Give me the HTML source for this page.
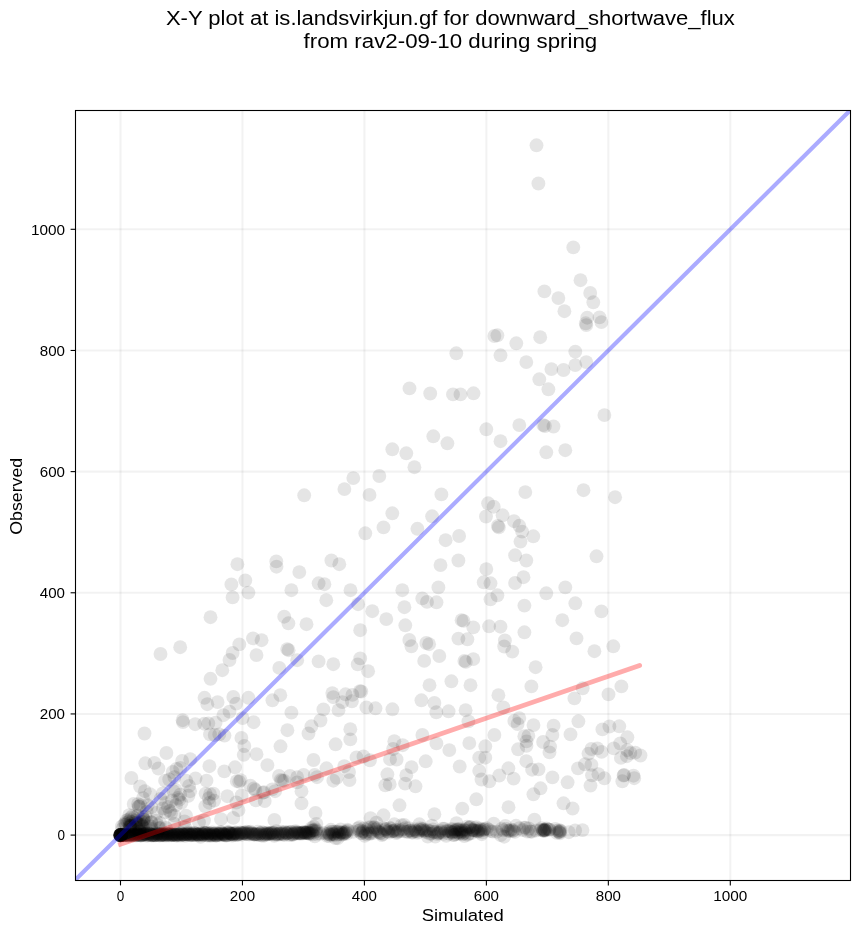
<!DOCTYPE html>
<html><head><meta charset="utf-8"><title>X-Y plot</title>
<style>
html,body{margin:0;padding:0;background:#fff;}
body{width:860px;height:934px;overflow:hidden;font-family:"Liberation Sans",sans-serif;}
svg{display:block;}
text{font-family:"Liberation Sans",sans-serif;fill:#000;}
svg{will-change:transform;transform:translateZ(0);}
</style></head><body>
<svg width="860" height="934" viewBox="0 0 860 934">
<rect width="860" height="934" fill="#fff"/>
<defs><clipPath id="c"><rect x="75.5" y="110.5" width="775.0" height="770.0"/></clipPath></defs>
<g stroke="#000" stroke-opacity="0.05" stroke-width="2.1" fill="none">
<line x1="120.50" y1="110.5" x2="120.50" y2="880.5"/><line x1="75.5" y1="835.10" x2="850.5" y2="835.10"/>
<line x1="242.46" y1="110.5" x2="242.46" y2="880.5"/><line x1="75.5" y1="713.94" x2="850.5" y2="713.94"/>
<line x1="364.42" y1="110.5" x2="364.42" y2="880.5"/><line x1="75.5" y1="592.78" x2="850.5" y2="592.78"/>
<line x1="486.38" y1="110.5" x2="486.38" y2="880.5"/><line x1="75.5" y1="471.62" x2="850.5" y2="471.62"/>
<line x1="608.34" y1="110.5" x2="608.34" y2="880.5"/><line x1="75.5" y1="350.46" x2="850.5" y2="350.46"/>
<line x1="730.30" y1="110.5" x2="730.30" y2="880.5"/><line x1="75.5" y1="229.30" x2="850.5" y2="229.30"/>
</g>
<g clip-path="url(#c)" fill="#000" fill-opacity="0.1">
<circle cx="536.5" cy="145.3" r="6.94"/><circle cx="538.4" cy="183.5" r="6.94"/><circle cx="573.3" cy="247.4" r="6.94"/><circle cx="580.5" cy="280.2" r="6.94"/><circle cx="544.4" cy="291.4" r="6.94"/><circle cx="558.4" cy="298.1" r="6.94"/>
<circle cx="590.2" cy="293.0" r="6.94"/><circle cx="593.3" cy="302.3" r="6.94"/><circle cx="564.4" cy="311.2" r="6.94"/><circle cx="587.2" cy="317.7" r="6.94"/><circle cx="585.8" cy="323.3" r="6.94"/><circle cx="586.3" cy="325.1" r="6.94"/>
<circle cx="599.5" cy="317.4" r="6.94"/><circle cx="601.4" cy="322.1" r="6.94"/><circle cx="540.2" cy="337.2" r="6.94"/><circle cx="516.3" cy="343.3" r="6.94"/><circle cx="575.3" cy="351.6" r="6.94"/><circle cx="526.3" cy="362.1" r="6.94"/>
<circle cx="586.3" cy="362.1" r="6.94"/><circle cx="575.3" cy="365.1" r="6.94"/><circle cx="551.4" cy="369.1" r="6.94"/><circle cx="563.5" cy="370.0" r="6.94"/><circle cx="539.3" cy="379.3" r="6.94"/><circle cx="548.4" cy="389.3" r="6.94"/>
<circle cx="604.4" cy="415.1" r="6.94"/><circle cx="519.3" cy="425.1" r="6.94"/><circle cx="543.3" cy="425.1" r="6.94"/><circle cx="544.9" cy="426.0" r="6.94"/><circle cx="553.5" cy="426.5" r="6.94"/><circle cx="546.3" cy="452.3" r="6.94"/>
<circle cx="565.3" cy="450.2" r="6.94"/><circle cx="525.3" cy="492.1" r="6.94"/><circle cx="583.5" cy="490.2" r="6.94"/><circle cx="615.1" cy="497.2" r="6.94"/><circle cx="494.4" cy="336.0" r="6.94"/><circle cx="497.4" cy="335.3" r="6.94"/>
<circle cx="456.3" cy="353.3" r="6.94"/><circle cx="500.5" cy="355.3" r="6.94"/><circle cx="409.5" cy="388.4" r="6.94"/><circle cx="430.2" cy="393.5" r="6.94"/><circle cx="453.0" cy="394.4" r="6.94"/><circle cx="460.5" cy="394.4" r="6.94"/>
<circle cx="473.5" cy="393.3" r="6.94"/><circle cx="486.3" cy="429.3" r="6.94"/><circle cx="500.5" cy="441.2" r="6.94"/><circle cx="433.3" cy="436.3" r="6.94"/><circle cx="447.4" cy="443.3" r="6.94"/><circle cx="392.3" cy="449.3" r="6.94"/>
<circle cx="406.3" cy="453.3" r="6.94"/><circle cx="414.4" cy="467.2" r="6.94"/><circle cx="353.3" cy="478.1" r="6.94"/><circle cx="379.3" cy="476.0" r="6.94"/><circle cx="344.4" cy="489.1" r="6.94"/><circle cx="369.5" cy="494.9" r="6.94"/>
<circle cx="441.4" cy="494.4" r="6.94"/><circle cx="514.0" cy="521.2" r="6.94"/><circle cx="519.3" cy="525.8" r="6.94"/><circle cx="522.1" cy="531.6" r="6.94"/><circle cx="533.3" cy="536.3" r="6.94"/><circle cx="520.5" cy="541.6" r="6.94"/>
<circle cx="515.1" cy="555.3" r="6.94"/><circle cx="526.3" cy="560.5" r="6.94"/><circle cx="596.5" cy="556.3" r="6.94"/><circle cx="523.5" cy="577.2" r="6.94"/><circle cx="515.1" cy="583.0" r="6.94"/><circle cx="546.3" cy="593.3" r="6.94"/>
<circle cx="565.3" cy="587.4" r="6.94"/><circle cx="524.4" cy="605.6" r="6.94"/><circle cx="575.3" cy="603.3" r="6.94"/><circle cx="601.4" cy="611.4" r="6.94"/><circle cx="562.3" cy="620.2" r="6.94"/><circle cx="524.4" cy="632.3" r="6.94"/>
<circle cx="576.5" cy="638.4" r="6.94"/><circle cx="594.4" cy="651.2" r="6.94"/><circle cx="613.3" cy="646.3" r="6.94"/><circle cx="512.3" cy="651.6" r="6.94"/><circle cx="535.6" cy="667.2" r="6.94"/><circle cx="488.1" cy="503.3" r="6.94"/>
<circle cx="493.7" cy="506.7" r="6.94"/><circle cx="502.6" cy="515.3" r="6.94"/><circle cx="486.0" cy="516.5" r="6.94"/><circle cx="497.9" cy="526.0" r="6.94"/><circle cx="498.8" cy="527.4" r="6.94"/><circle cx="392.3" cy="513.3" r="6.94"/>
<circle cx="432.1" cy="516.3" r="6.94"/><circle cx="383.5" cy="527.4" r="6.94"/><circle cx="417.4" cy="528.8" r="6.94"/><circle cx="365.3" cy="533.3" r="6.94"/><circle cx="459.1" cy="536.0" r="6.94"/><circle cx="445.6" cy="540.2" r="6.94"/>
<circle cx="331.4" cy="560.5" r="6.94"/><circle cx="339.3" cy="564.2" r="6.94"/><circle cx="458.4" cy="560.5" r="6.94"/><circle cx="440.5" cy="565.1" r="6.94"/><circle cx="486.3" cy="569.1" r="6.94"/><circle cx="318.6" cy="583.3" r="6.94"/>
<circle cx="324.4" cy="584.2" r="6.94"/><circle cx="350.5" cy="590.2" r="6.94"/><circle cx="402.3" cy="590.2" r="6.94"/><circle cx="438.4" cy="587.4" r="6.94"/><circle cx="483.7" cy="582.3" r="6.94"/><circle cx="490.5" cy="583.3" r="6.94"/>
<circle cx="326.3" cy="600.2" r="6.94"/><circle cx="358.1" cy="604.2" r="6.94"/><circle cx="422.3" cy="598.4" r="6.94"/><circle cx="427.0" cy="601.9" r="6.94"/><circle cx="436.5" cy="602.3" r="6.94"/><circle cx="497.4" cy="595.3" r="6.94"/>
<circle cx="490.5" cy="599.3" r="6.94"/><circle cx="372.3" cy="611.2" r="6.94"/><circle cx="404.4" cy="607.2" r="6.94"/><circle cx="386.3" cy="619.1" r="6.94"/><circle cx="360.2" cy="630.2" r="6.94"/><circle cx="405.3" cy="625.3" r="6.94"/>
<circle cx="461.6" cy="620.2" r="6.94"/><circle cx="463.5" cy="620.9" r="6.94"/><circle cx="473.3" cy="627.4" r="6.94"/><circle cx="489.1" cy="626.3" r="6.94"/><circle cx="500.5" cy="626.7" r="6.94"/><circle cx="409.3" cy="640.0" r="6.94"/>
<circle cx="411.4" cy="646.3" r="6.94"/><circle cx="426.3" cy="643.0" r="6.94"/><circle cx="429.1" cy="644.2" r="6.94"/><circle cx="458.4" cy="638.6" r="6.94"/><circle cx="467.4" cy="639.3" r="6.94"/><circle cx="504.9" cy="640.5" r="6.94"/>
<circle cx="504.2" cy="646.5" r="6.94"/><circle cx="318.6" cy="661.4" r="6.94"/><circle cx="333.3" cy="664.2" r="6.94"/><circle cx="360.2" cy="658.4" r="6.94"/><circle cx="357.7" cy="664.4" r="6.94"/><circle cx="368.1" cy="671.2" r="6.94"/>
<circle cx="424.2" cy="660.9" r="6.94"/><circle cx="439.3" cy="656.0" r="6.94"/><circle cx="464.4" cy="660.9" r="6.94"/><circle cx="465.8" cy="661.9" r="6.94"/><circle cx="473.3" cy="659.1" r="6.94"/><circle cx="304.2" cy="495.3" r="6.94"/>
<circle cx="237.4" cy="564.2" r="6.94"/><circle cx="276.3" cy="561.4" r="6.94"/><circle cx="276.5" cy="566.7" r="6.94"/><circle cx="299.3" cy="572.1" r="6.94"/><circle cx="245.3" cy="580.5" r="6.94"/><circle cx="231.4" cy="584.4" r="6.94"/>
<circle cx="291.4" cy="590.2" r="6.94"/><circle cx="248.4" cy="592.6" r="6.94"/><circle cx="232.6" cy="597.4" r="6.94"/><circle cx="210.5" cy="617.2" r="6.94"/><circle cx="284.2" cy="616.7" r="6.94"/><circle cx="288.4" cy="623.3" r="6.94"/>
<circle cx="306.5" cy="624.2" r="6.94"/><circle cx="253.0" cy="638.4" r="6.94"/><circle cx="261.6" cy="640.2" r="6.94"/><circle cx="239.3" cy="644.4" r="6.94"/><circle cx="180.2" cy="647.2" r="6.94"/><circle cx="160.5" cy="654.0" r="6.94"/>
<circle cx="287.2" cy="649.1" r="6.94"/><circle cx="288.6" cy="650.2" r="6.94"/><circle cx="232.6" cy="653.0" r="6.94"/><circle cx="256.5" cy="655.1" r="6.94"/><circle cx="229.5" cy="660.0" r="6.94"/><circle cx="297.2" cy="660.2" r="6.94"/>
<circle cx="279.3" cy="667.9" r="6.94"/><circle cx="222.3" cy="670.2" r="6.94"/><circle cx="210.5" cy="678.8" r="6.94"/><circle cx="582.7" cy="688.3" r="6.94"/><circle cx="574.4" cy="698.4" r="6.94"/><circle cx="608.5" cy="694.4" r="6.94"/>
<circle cx="621.4" cy="686.4" r="6.94"/><circle cx="578.4" cy="721.3" r="6.94"/><circle cx="570.5" cy="734.4" r="6.94"/><circle cx="602.4" cy="729.4" r="6.94"/><circle cx="609.4" cy="726.5" r="6.94"/><circle cx="619.3" cy="726.3" r="6.94"/>
<circle cx="627.4" cy="737.3" r="6.94"/><circle cx="620.2" cy="743.5" r="6.94"/><circle cx="613.7" cy="748.4" r="6.94"/><circle cx="591.4" cy="749.0" r="6.94"/><circle cx="597.4" cy="748.4" r="6.94"/><circle cx="601.6" cy="751.9" r="6.94"/>
<circle cx="588.5" cy="753.6" r="6.94"/><circle cx="585.0" cy="764.3" r="6.94"/><circle cx="591.4" cy="764.9" r="6.94"/><circle cx="578.0" cy="768.4" r="6.94"/><circle cx="592.0" cy="775.3" r="6.94"/><circle cx="598.4" cy="774.2" r="6.94"/>
<circle cx="604.4" cy="778.3" r="6.94"/><circle cx="590.5" cy="785.6" r="6.94"/><circle cx="567.6" cy="782.3" r="6.94"/><circle cx="563.5" cy="803.3" r="6.94"/><circle cx="572.6" cy="808.5" r="6.94"/><circle cx="620.9" cy="757.9" r="6.94"/>
<circle cx="626.9" cy="756.2" r="6.94"/><circle cx="630.4" cy="753.0" r="6.94"/><circle cx="635.2" cy="752.7" r="6.94"/><circle cx="640.5" cy="755.5" r="6.94"/><circle cx="627.2" cy="750.2" r="6.94"/><circle cx="624.1" cy="775.0" r="6.94"/>
<circle cx="623.6" cy="775.5" r="6.94"/><circle cx="622.3" cy="781.3" r="6.94"/><circle cx="633.5" cy="775.7" r="6.94"/><circle cx="634.2" cy="778.2" r="6.94"/><circle cx="470.5" cy="685.2" r="6.94"/><circle cx="531.4" cy="686.4" r="6.94"/>
<circle cx="498.4" cy="695.2" r="6.94"/><circle cx="503.4" cy="707.4" r="6.94"/><circle cx="465.6" cy="710.2" r="6.94"/><circle cx="468.4" cy="721.4" r="6.94"/><circle cx="519.3" cy="718.1" r="6.94"/><circle cx="514.3" cy="721.0" r="6.94"/>
<circle cx="517.6" cy="724.0" r="6.94"/><circle cx="533.5" cy="725.1" r="6.94"/><circle cx="553.6" cy="725.7" r="6.94"/><circle cx="494.4" cy="735.0" r="6.94"/><circle cx="524.3" cy="736.2" r="6.94"/><circle cx="528.4" cy="735.8" r="6.94"/>
<circle cx="552.4" cy="735.0" r="6.94"/><circle cx="469.3" cy="743.1" r="6.94"/><circle cx="485.3" cy="746.3" r="6.94"/><circle cx="543.1" cy="742.0" r="6.94"/><circle cx="526.5" cy="741.4" r="6.94"/><circle cx="526.5" cy="745.8" r="6.94"/>
<circle cx="518.1" cy="749.3" r="6.94"/><circle cx="550.1" cy="746.6" r="6.94"/><circle cx="549.5" cy="752.4" r="6.94"/><circle cx="479.2" cy="757.7" r="6.94"/><circle cx="485.3" cy="757.7" r="6.94"/><circle cx="526.3" cy="761.2" r="6.94"/>
<circle cx="451.4" cy="681.3" r="6.94"/><circle cx="429.5" cy="685.2" r="6.94"/><circle cx="421.4" cy="700.3" r="6.94"/><circle cx="434.4" cy="703.0" r="6.94"/><circle cx="366.4" cy="707.4" r="6.94"/><circle cx="375.5" cy="708.3" r="6.94"/>
<circle cx="392.4" cy="709.3" r="6.94"/><circle cx="436.3" cy="712.3" r="6.94"/><circle cx="448.6" cy="711.3" r="6.94"/><circle cx="422.4" cy="735.0" r="6.94"/><circle cx="394.3" cy="741.2" r="6.94"/><circle cx="402.7" cy="745.2" r="6.94"/>
<circle cx="436.4" cy="743.4" r="6.94"/><circle cx="393.1" cy="749.0" r="6.94"/><circle cx="449.3" cy="750.1" r="6.94"/><circle cx="363.5" cy="756.5" r="6.94"/><circle cx="390.0" cy="759.2" r="6.94"/><circle cx="396.6" cy="759.5" r="6.94"/>
<circle cx="369.9" cy="760.3" r="6.94"/><circle cx="425.7" cy="761.3" r="6.94"/><circle cx="411.5" cy="767.1" r="6.94"/><circle cx="387.4" cy="774.3" r="6.94"/><circle cx="406.3" cy="775.2" r="6.94"/><circle cx="385.3" cy="785.3" r="6.94"/>
<circle cx="389.7" cy="784.2" r="6.94"/><circle cx="405.1" cy="783.6" r="6.94"/><circle cx="415.5" cy="786.3" r="6.94"/><circle cx="399.5" cy="805.3" r="6.94"/><circle cx="383.5" cy="815.3" r="6.94"/><circle cx="370.5" cy="818.1" r="6.94"/>
<circle cx="434.4" cy="814.2" r="6.94"/><circle cx="459.7" cy="766.5" r="6.94"/><circle cx="479.2" cy="770.8" r="6.94"/><circle cx="508.4" cy="768.3" r="6.94"/><circle cx="499.3" cy="775.5" r="6.94"/><circle cx="481.5" cy="779.5" r="6.94"/>
<circle cx="489.4" cy="781.3" r="6.94"/><circle cx="513.6" cy="778.6" r="6.94"/><circle cx="532.1" cy="769.7" r="6.94"/><circle cx="538.5" cy="769.4" r="6.94"/><circle cx="552.4" cy="777.4" r="6.94"/><circle cx="540.5" cy="788.3" r="6.94"/>
<circle cx="533.4" cy="794.3" r="6.94"/><circle cx="476.3" cy="799.3" r="6.94"/><circle cx="462.3" cy="808.6" r="6.94"/><circle cx="508.5" cy="807.2" r="6.94"/><circle cx="534.4" cy="819.7" r="6.94"/><circle cx="280.3" cy="695.2" r="6.94"/>
<circle cx="272.4" cy="700.3" r="6.94"/><circle cx="291.4" cy="712.6" r="6.94"/><circle cx="332.3" cy="693.1" r="6.94"/><circle cx="333.3" cy="697.2" r="6.94"/><circle cx="345.5" cy="694.3" r="6.94"/><circle cx="352.4" cy="694.9" r="6.94"/>
<circle cx="359.9" cy="691.2" r="6.94"/><circle cx="361.3" cy="691.5" r="6.94"/><circle cx="342.3" cy="702.1" r="6.94"/><circle cx="351.9" cy="701.3" r="6.94"/><circle cx="323.4" cy="709.4" r="6.94"/><circle cx="338.5" cy="710.2" r="6.94"/>
<circle cx="320.5" cy="720.5" r="6.94"/><circle cx="311.4" cy="726.3" r="6.94"/><circle cx="308.5" cy="733.5" r="6.94"/><circle cx="287.4" cy="730.2" r="6.94"/><circle cx="350.3" cy="729.2" r="6.94"/><circle cx="350.3" cy="739.4" r="6.94"/>
<circle cx="280.5" cy="746.3" r="6.94"/><circle cx="335.6" cy="744.3" r="6.94"/><circle cx="313.5" cy="760.0" r="6.94"/><circle cx="267.4" cy="765.2" r="6.94"/><circle cx="356.5" cy="757.4" r="6.94"/><circle cx="326.5" cy="768.3" r="6.94"/>
<circle cx="344.3" cy="766.2" r="6.94"/><circle cx="279.0" cy="776.0" r="6.94"/><circle cx="290.0" cy="776.0" r="6.94"/><circle cx="297.2" cy="777.2" r="6.94"/><circle cx="303.6" cy="774.9" r="6.94"/><circle cx="280.7" cy="779.9" r="6.94"/>
<circle cx="282.1" cy="780.7" r="6.94"/><circle cx="284.1" cy="780.7" r="6.94"/><circle cx="314.7" cy="774.9" r="6.94"/><circle cx="317.0" cy="777.2" r="6.94"/><circle cx="297.2" cy="782.4" r="6.94"/><circle cx="349.0" cy="772.0" r="6.94"/>
<circle cx="336.7" cy="777.8" r="6.94"/><circle cx="333.3" cy="780.7" r="6.94"/><circle cx="349.5" cy="780.1" r="6.94"/><circle cx="272.2" cy="789.4" r="6.94"/><circle cx="275.1" cy="791.2" r="6.94"/><circle cx="264.1" cy="792.3" r="6.94"/>
<circle cx="301.5" cy="791.2" r="6.94"/><circle cx="264.7" cy="801.0" r="6.94"/><circle cx="301.5" cy="803.4" r="6.94"/><circle cx="315.5" cy="813.0" r="6.94"/><circle cx="274.4" cy="820.0" r="6.94"/><circle cx="316.4" cy="824.0" r="6.94"/>
<circle cx="204.5" cy="697.8" r="6.94"/><circle cx="207.3" cy="704.2" r="6.94"/><circle cx="217.6" cy="702.1" r="6.94"/><circle cx="233.3" cy="697.0" r="6.94"/><circle cx="236.2" cy="703.6" r="6.94"/><circle cx="248.4" cy="697.8" r="6.94"/>
<circle cx="229.5" cy="711.7" r="6.94"/><circle cx="223.4" cy="715.2" r="6.94"/><circle cx="182.6" cy="720.2" r="6.94"/><circle cx="183.0" cy="722.1" r="6.94"/><circle cx="195.2" cy="724.2" r="6.94"/><circle cx="204.2" cy="723.7" r="6.94"/>
<circle cx="208.3" cy="723.4" r="6.94"/><circle cx="215.6" cy="722.8" r="6.94"/><circle cx="242.6" cy="718.1" r="6.94"/><circle cx="253.6" cy="722.2" r="6.94"/><circle cx="210.0" cy="734.4" r="6.94"/><circle cx="214.7" cy="735.0" r="6.94"/>
<circle cx="219.3" cy="734.4" r="6.94"/><circle cx="224.5" cy="735.6" r="6.94"/><circle cx="241.4" cy="737.9" r="6.94"/><circle cx="244.3" cy="746.0" r="6.94"/><circle cx="166.4" cy="753.0" r="6.94"/><circle cx="243.7" cy="754.8" r="6.94"/>
<circle cx="256.5" cy="754.2" r="6.94"/><circle cx="190.2" cy="759.2" r="6.94"/><circle cx="182.1" cy="760.9" r="6.94"/><circle cx="209.4" cy="766.2" r="6.94"/><circle cx="224.3" cy="771.4" r="6.94"/><circle cx="235.0" cy="767.3" r="6.94"/>
<circle cx="206.5" cy="780.7" r="6.94"/><circle cx="195.5" cy="778.4" r="6.94"/><circle cx="236.8" cy="781.2" r="6.94"/><circle cx="240.6" cy="780.1" r="6.94"/><circle cx="239.2" cy="781.7" r="6.94"/><circle cx="250.4" cy="785.7" r="6.94"/>
<circle cx="253.8" cy="788.5" r="6.94"/><circle cx="255.4" cy="789.9" r="6.94"/><circle cx="262.9" cy="792.7" r="6.94"/><circle cx="227.3" cy="796.2" r="6.94"/><circle cx="241.6" cy="795.5" r="6.94"/><circle cx="236.4" cy="802.5" r="6.94"/>
<circle cx="255.9" cy="800.4" r="6.94"/><circle cx="238.5" cy="810.1" r="6.94"/><circle cx="145.3" cy="763.3" r="6.94"/><circle cx="154.4" cy="762.9" r="6.94"/><circle cx="158.4" cy="768.5" r="6.94"/><circle cx="131.4" cy="778.0" r="6.94"/>
<circle cx="180.2" cy="767.9" r="6.94"/><circle cx="172.7" cy="772.0" r="6.94"/><circle cx="174.4" cy="777.2" r="6.94"/><circle cx="176.5" cy="769.0" r="6.94"/><circle cx="140.1" cy="786.5" r="6.94"/><circle cx="144.8" cy="791.2" r="6.94"/>
<circle cx="150.0" cy="794.1" r="6.94"/><circle cx="165.1" cy="780.7" r="6.94"/><circle cx="169.2" cy="779.5" r="6.94"/><circle cx="189.0" cy="785.9" r="6.94"/><circle cx="190.1" cy="791.2" r="6.94"/><circle cx="186.3" cy="780.8" r="6.94"/>
<circle cx="162.8" cy="793.5" r="6.94"/><circle cx="175.6" cy="790.0" r="6.94"/><circle cx="173.7" cy="791.3" r="6.94"/><circle cx="180.2" cy="794.7" r="6.94"/><circle cx="179.3" cy="799.7" r="6.94"/><circle cx="143.0" cy="798.1" r="6.94"/>
<circle cx="133.7" cy="804.0" r="6.94"/><circle cx="140.7" cy="805.1" r="6.94"/><circle cx="151.2" cy="807.4" r="6.94"/><circle cx="168.0" cy="806.9" r="6.94"/><circle cx="169.8" cy="810.9" r="6.94"/><circle cx="165.1" cy="812.1" r="6.94"/>
<circle cx="181.4" cy="802.8" r="6.94"/><circle cx="174.4" cy="815.6" r="6.94"/><circle cx="186.0" cy="815.6" r="6.94"/><circle cx="188.4" cy="795.8" r="6.94"/><circle cx="233.3" cy="817.9" r="6.94"/><circle cx="221.0" cy="819.1" r="6.94"/>
<circle cx="172.0" cy="800.5" r="6.94"/><circle cx="176.0" cy="805.0" r="6.94"/><circle cx="166.0" cy="803.0" r="6.94"/><circle cx="171.0" cy="813.5" r="6.94"/><circle cx="178.0" cy="798.0" r="6.94"/><circle cx="163.0" cy="808.5" r="6.94"/>
<circle cx="160.5" cy="799.0" r="6.94"/><circle cx="144.5" cy="733.5" r="6.94"/><circle cx="205.6" cy="793.6" r="6.94"/><circle cx="210.0" cy="794.2" r="6.94"/><circle cx="213.5" cy="793.6" r="6.94"/><circle cx="214.1" cy="800.6" r="6.94"/>
<circle cx="209.4" cy="802.9" r="6.94"/><circle cx="205.3" cy="806.4" r="6.94"/><circle cx="208.8" cy="798.3" r="6.94"/><circle cx="204.0" cy="820.5" r="6.94"/><circle cx="376.3" cy="822.6" r="6.94"/><circle cx="394.3" cy="824.3" r="6.94"/>
<circle cx="404.2" cy="824.9" r="6.94"/><circle cx="419.3" cy="824.3" r="6.94"/><circle cx="456.5" cy="823.1" r="6.94"/><circle cx="493.7" cy="823.7" r="6.94"/><circle cx="120.5" cy="835.2" r="6.94"/><circle cx="121.0" cy="834.9" r="6.94"/>
<circle cx="121.4" cy="834.9" r="6.94"/><circle cx="121.9" cy="835.1" r="6.94"/><circle cx="122.3" cy="835.1" r="6.94"/><circle cx="122.8" cy="835.1" r="6.94"/><circle cx="123.2" cy="835.3" r="6.94"/><circle cx="123.7" cy="835.1" r="6.94"/>
<circle cx="124.1" cy="834.5" r="6.94"/><circle cx="124.6" cy="834.9" r="6.94"/><circle cx="125.0" cy="835.1" r="6.94"/><circle cx="125.5" cy="834.9" r="6.94"/><circle cx="126.0" cy="835.2" r="6.94"/><circle cx="126.4" cy="834.5" r="6.94"/>
<circle cx="126.9" cy="835.1" r="6.94"/><circle cx="127.3" cy="835.1" r="6.94"/><circle cx="127.8" cy="834.5" r="6.94"/><circle cx="128.2" cy="835.9" r="6.94"/><circle cx="128.7" cy="835.2" r="6.94"/><circle cx="129.1" cy="835.6" r="6.94"/>
<circle cx="129.6" cy="834.5" r="6.94"/><circle cx="130.0" cy="834.4" r="6.94"/><circle cx="130.5" cy="834.7" r="6.94"/><circle cx="131.0" cy="834.8" r="6.94"/><circle cx="131.4" cy="835.2" r="6.94"/><circle cx="131.9" cy="835.0" r="6.94"/>
<circle cx="132.3" cy="834.6" r="6.94"/><circle cx="132.8" cy="834.3" r="6.94"/><circle cx="133.2" cy="834.5" r="6.94"/><circle cx="133.7" cy="835.6" r="6.94"/><circle cx="134.1" cy="834.3" r="6.94"/><circle cx="134.6" cy="835.0" r="6.94"/>
<circle cx="135.0" cy="835.1" r="6.94"/><circle cx="135.5" cy="833.9" r="6.94"/><circle cx="136.0" cy="834.8" r="6.94"/><circle cx="136.4" cy="835.6" r="6.94"/><circle cx="136.9" cy="833.6" r="6.94"/><circle cx="137.3" cy="834.6" r="6.94"/>
<circle cx="137.8" cy="834.7" r="6.94"/><circle cx="138.2" cy="834.3" r="6.94"/><circle cx="138.7" cy="835.1" r="6.94"/><circle cx="139.1" cy="834.8" r="6.94"/><circle cx="139.6" cy="833.9" r="6.94"/><circle cx="140.0" cy="835.3" r="6.94"/>
<circle cx="140.5" cy="835.2" r="6.94"/><circle cx="141.0" cy="835.3" r="6.94"/><circle cx="141.4" cy="835.6" r="6.94"/><circle cx="141.9" cy="835.0" r="6.94"/><circle cx="142.3" cy="834.8" r="6.94"/><circle cx="142.8" cy="834.0" r="6.94"/>
<circle cx="143.2" cy="835.1" r="6.94"/><circle cx="143.7" cy="834.4" r="6.94"/><circle cx="144.1" cy="834.5" r="6.94"/><circle cx="144.6" cy="834.0" r="6.94"/><circle cx="145.0" cy="834.2" r="6.94"/><circle cx="145.5" cy="834.4" r="6.94"/>
<circle cx="146.0" cy="835.5" r="6.94"/><circle cx="146.4" cy="833.5" r="6.94"/><circle cx="146.9" cy="833.9" r="6.94"/><circle cx="147.3" cy="834.9" r="6.94"/><circle cx="147.8" cy="835.6" r="6.94"/><circle cx="148.2" cy="835.1" r="6.94"/>
<circle cx="148.7" cy="833.6" r="6.94"/><circle cx="149.1" cy="833.2" r="6.94"/><circle cx="149.6" cy="834.9" r="6.94"/><circle cx="150.0" cy="834.3" r="6.94"/><circle cx="150.5" cy="834.0" r="6.94"/><circle cx="151.0" cy="835.3" r="6.94"/>
<circle cx="151.4" cy="835.4" r="6.94"/><circle cx="151.9" cy="834.8" r="6.94"/><circle cx="152.3" cy="834.8" r="6.94"/><circle cx="152.8" cy="834.9" r="6.94"/><circle cx="153.2" cy="835.6" r="6.94"/><circle cx="153.7" cy="835.0" r="6.94"/>
<circle cx="154.1" cy="835.0" r="6.94"/><circle cx="154.6" cy="835.0" r="6.94"/><circle cx="155.0" cy="833.7" r="6.94"/><circle cx="155.5" cy="835.4" r="6.94"/><circle cx="156.0" cy="835.2" r="6.94"/><circle cx="156.4" cy="835.0" r="6.94"/>
<circle cx="156.9" cy="833.5" r="6.94"/><circle cx="157.3" cy="834.3" r="6.94"/><circle cx="157.8" cy="835.1" r="6.94"/><circle cx="158.2" cy="833.6" r="6.94"/><circle cx="158.7" cy="834.5" r="6.94"/><circle cx="159.1" cy="835.2" r="6.94"/>
<circle cx="159.6" cy="833.8" r="6.94"/><circle cx="160.0" cy="835.6" r="6.94"/><circle cx="160.5" cy="835.0" r="6.94"/><circle cx="161.0" cy="834.5" r="6.94"/><circle cx="161.4" cy="834.8" r="6.94"/><circle cx="161.9" cy="835.0" r="6.94"/>
<circle cx="162.3" cy="834.7" r="6.94"/><circle cx="162.8" cy="835.3" r="6.94"/><circle cx="163.2" cy="834.2" r="6.94"/><circle cx="163.7" cy="834.3" r="6.94"/><circle cx="164.1" cy="835.2" r="6.94"/><circle cx="164.6" cy="834.6" r="6.94"/>
<circle cx="165.0" cy="834.1" r="6.94"/><circle cx="165.5" cy="835.1" r="6.94"/><circle cx="166.0" cy="835.5" r="6.94"/><circle cx="166.4" cy="834.3" r="6.94"/><circle cx="166.9" cy="833.7" r="6.94"/><circle cx="167.3" cy="834.5" r="6.94"/>
<circle cx="167.8" cy="834.5" r="6.94"/><circle cx="168.2" cy="834.4" r="6.94"/><circle cx="168.7" cy="835.4" r="6.94"/><circle cx="169.1" cy="833.9" r="6.94"/><circle cx="169.6" cy="835.3" r="6.94"/><circle cx="170.0" cy="833.8" r="6.94"/>
<circle cx="170.5" cy="834.1" r="6.94"/><circle cx="171.0" cy="834.9" r="6.94"/><circle cx="171.4" cy="835.2" r="6.94"/><circle cx="171.9" cy="835.0" r="6.94"/><circle cx="172.3" cy="834.7" r="6.94"/><circle cx="172.8" cy="834.6" r="6.94"/>
<circle cx="173.2" cy="834.6" r="6.94"/><circle cx="173.7" cy="834.9" r="6.94"/><circle cx="174.1" cy="834.4" r="6.94"/><circle cx="174.6" cy="834.7" r="6.94"/><circle cx="175.0" cy="834.8" r="6.94"/><circle cx="175.5" cy="834.5" r="6.94"/>
<circle cx="176.0" cy="835.0" r="6.94"/><circle cx="176.4" cy="834.8" r="6.94"/><circle cx="176.9" cy="835.7" r="6.94"/><circle cx="177.3" cy="834.7" r="6.94"/><circle cx="177.8" cy="834.2" r="6.94"/><circle cx="178.2" cy="834.3" r="6.94"/>
<circle cx="178.7" cy="834.5" r="6.94"/><circle cx="179.1" cy="835.0" r="6.94"/><circle cx="179.6" cy="834.3" r="6.94"/><circle cx="180.0" cy="834.7" r="6.94"/><circle cx="180.5" cy="835.6" r="6.94"/><circle cx="181.0" cy="832.9" r="6.94"/>
<circle cx="181.4" cy="833.8" r="6.94"/><circle cx="181.9" cy="834.6" r="6.94"/><circle cx="182.3" cy="834.7" r="6.94"/><circle cx="182.8" cy="834.6" r="6.94"/><circle cx="183.2" cy="834.2" r="6.94"/><circle cx="183.7" cy="834.8" r="6.94"/>
<circle cx="184.1" cy="834.6" r="6.94"/><circle cx="184.6" cy="834.1" r="6.94"/><circle cx="185.0" cy="835.9" r="6.94"/><circle cx="185.5" cy="834.6" r="6.94"/><circle cx="186.0" cy="834.1" r="6.94"/><circle cx="186.4" cy="834.4" r="6.94"/>
<circle cx="186.9" cy="834.3" r="6.94"/><circle cx="187.3" cy="834.4" r="6.94"/><circle cx="187.8" cy="832.8" r="6.94"/><circle cx="188.2" cy="834.1" r="6.94"/><circle cx="188.7" cy="835.0" r="6.94"/><circle cx="189.1" cy="833.7" r="6.94"/>
<circle cx="189.6" cy="834.3" r="6.94"/><circle cx="190.0" cy="835.0" r="6.94"/><circle cx="190.5" cy="834.9" r="6.94"/><circle cx="191.0" cy="835.3" r="6.94"/><circle cx="191.4" cy="833.3" r="6.94"/><circle cx="191.9" cy="834.2" r="6.94"/>
<circle cx="192.3" cy="834.2" r="6.94"/><circle cx="192.8" cy="834.7" r="6.94"/><circle cx="193.2" cy="835.0" r="6.94"/><circle cx="193.7" cy="832.7" r="6.94"/><circle cx="194.1" cy="835.0" r="6.94"/><circle cx="194.6" cy="833.5" r="6.94"/>
<circle cx="195.0" cy="834.7" r="6.94"/><circle cx="195.5" cy="833.4" r="6.94"/><circle cx="196.0" cy="834.4" r="6.94"/><circle cx="196.4" cy="835.0" r="6.94"/><circle cx="196.9" cy="834.2" r="6.94"/><circle cx="197.3" cy="834.4" r="6.94"/>
<circle cx="197.8" cy="834.8" r="6.94"/><circle cx="198.2" cy="834.4" r="6.94"/><circle cx="198.7" cy="834.3" r="6.94"/><circle cx="199.1" cy="835.2" r="6.94"/><circle cx="199.6" cy="834.9" r="6.94"/><circle cx="200.0" cy="834.0" r="6.94"/>
<circle cx="200.5" cy="836.8" r="6.94"/><circle cx="201.0" cy="833.3" r="6.94"/><circle cx="201.4" cy="835.1" r="6.94"/><circle cx="201.9" cy="834.0" r="6.94"/><circle cx="202.3" cy="834.4" r="6.94"/><circle cx="202.8" cy="834.9" r="6.94"/>
<circle cx="203.2" cy="834.5" r="6.94"/><circle cx="203.7" cy="834.8" r="6.94"/><circle cx="204.1" cy="832.9" r="6.94"/><circle cx="204.6" cy="832.9" r="6.94"/><circle cx="205.0" cy="834.8" r="6.94"/><circle cx="205.5" cy="833.4" r="6.94"/>
<circle cx="206.0" cy="833.3" r="6.94"/><circle cx="206.4" cy="832.9" r="6.94"/><circle cx="206.9" cy="835.4" r="6.94"/><circle cx="207.3" cy="834.9" r="6.94"/><circle cx="207.8" cy="835.5" r="6.94"/><circle cx="208.2" cy="833.4" r="6.94"/>
<circle cx="208.7" cy="834.2" r="6.94"/><circle cx="209.1" cy="833.2" r="6.94"/><circle cx="209.6" cy="834.9" r="6.94"/><circle cx="210.0" cy="835.6" r="6.94"/><circle cx="210.5" cy="833.4" r="6.94"/><circle cx="211.0" cy="835.6" r="6.94"/>
<circle cx="211.4" cy="835.1" r="6.94"/><circle cx="211.9" cy="834.0" r="6.94"/><circle cx="212.3" cy="832.4" r="6.94"/><circle cx="212.8" cy="835.4" r="6.94"/><circle cx="213.2" cy="834.1" r="6.94"/><circle cx="213.7" cy="833.6" r="6.94"/>
<circle cx="214.1" cy="834.5" r="6.94"/><circle cx="214.6" cy="834.5" r="6.94"/><circle cx="215.0" cy="835.5" r="6.94"/><circle cx="215.5" cy="833.2" r="6.94"/><circle cx="216.0" cy="835.2" r="6.94"/><circle cx="216.4" cy="835.5" r="6.94"/>
<circle cx="216.9" cy="835.4" r="6.94"/><circle cx="217.3" cy="834.0" r="6.94"/><circle cx="217.8" cy="833.5" r="6.94"/><circle cx="218.2" cy="835.0" r="6.94"/><circle cx="218.7" cy="834.2" r="6.94"/><circle cx="219.1" cy="834.2" r="6.94"/>
<circle cx="219.6" cy="835.4" r="6.94"/><circle cx="220.0" cy="833.9" r="6.94"/><circle cx="220.5" cy="832.0" r="6.94"/><circle cx="221.0" cy="833.7" r="6.94"/><circle cx="221.4" cy="832.4" r="6.94"/><circle cx="221.9" cy="834.8" r="6.94"/>
<circle cx="222.3" cy="834.4" r="6.94"/><circle cx="222.8" cy="833.5" r="6.94"/><circle cx="223.2" cy="834.1" r="6.94"/><circle cx="223.7" cy="834.8" r="6.94"/><circle cx="224.1" cy="834.1" r="6.94"/><circle cx="224.6" cy="835.2" r="6.94"/>
<circle cx="225.0" cy="834.0" r="6.94"/><circle cx="225.5" cy="835.0" r="6.94"/><circle cx="226.0" cy="835.4" r="6.94"/><circle cx="226.4" cy="835.5" r="6.94"/><circle cx="226.9" cy="833.4" r="6.94"/><circle cx="227.3" cy="834.8" r="6.94"/>
<circle cx="227.8" cy="832.3" r="6.94"/><circle cx="228.2" cy="833.0" r="6.94"/><circle cx="228.7" cy="832.2" r="6.94"/><circle cx="229.1" cy="835.0" r="6.94"/><circle cx="229.6" cy="832.9" r="6.94"/><circle cx="230.0" cy="834.0" r="6.94"/>
<circle cx="230.5" cy="833.8" r="6.94"/><circle cx="231.0" cy="834.0" r="6.94"/><circle cx="231.4" cy="833.5" r="6.94"/><circle cx="231.9" cy="834.2" r="6.94"/><circle cx="232.3" cy="835.6" r="6.94"/><circle cx="232.8" cy="834.0" r="6.94"/>
<circle cx="233.2" cy="834.4" r="6.94"/><circle cx="233.7" cy="834.9" r="6.94"/><circle cx="234.1" cy="833.8" r="6.94"/><circle cx="234.6" cy="832.8" r="6.94"/><circle cx="235.0" cy="833.4" r="6.94"/><circle cx="235.5" cy="834.9" r="6.94"/>
<circle cx="236.0" cy="832.5" r="6.94"/><circle cx="236.4" cy="833.4" r="6.94"/><circle cx="237.0" cy="834.8" r="6.94"/><circle cx="237.6" cy="834.6" r="6.94"/><circle cx="238.2" cy="833.9" r="6.94"/><circle cx="238.8" cy="834.6" r="6.94"/>
<circle cx="239.4" cy="834.1" r="6.94"/><circle cx="240.0" cy="832.8" r="6.94"/><circle cx="240.7" cy="832.5" r="6.94"/><circle cx="241.3" cy="833.3" r="6.94"/><circle cx="241.9" cy="834.7" r="6.94"/><circle cx="242.5" cy="833.4" r="6.94"/>
<circle cx="243.1" cy="833.1" r="6.94"/><circle cx="243.7" cy="833.2" r="6.94"/><circle cx="244.3" cy="832.5" r="6.94"/><circle cx="244.9" cy="833.7" r="6.94"/><circle cx="245.5" cy="832.8" r="6.94"/><circle cx="246.1" cy="834.2" r="6.94"/>
<circle cx="246.7" cy="831.7" r="6.94"/><circle cx="247.3" cy="834.1" r="6.94"/><circle cx="247.9" cy="833.2" r="6.94"/><circle cx="248.5" cy="832.1" r="6.94"/><circle cx="249.2" cy="834.5" r="6.94"/><circle cx="249.9" cy="833.6" r="6.94"/>
<circle cx="250.5" cy="831.8" r="6.94"/><circle cx="251.2" cy="833.0" r="6.94"/><circle cx="251.9" cy="834.0" r="6.94"/><circle cx="252.5" cy="833.4" r="6.94"/><circle cx="253.2" cy="834.5" r="6.94"/><circle cx="253.9" cy="834.4" r="6.94"/>
<circle cx="254.5" cy="834.4" r="6.94"/><circle cx="255.2" cy="834.0" r="6.94"/><circle cx="255.9" cy="834.9" r="6.94"/><circle cx="256.5" cy="834.3" r="6.94"/><circle cx="257.2" cy="834.1" r="6.94"/><circle cx="257.9" cy="831.8" r="6.94"/>
<circle cx="258.5" cy="834.5" r="6.94"/><circle cx="259.2" cy="834.9" r="6.94"/><circle cx="259.9" cy="833.4" r="6.94"/><circle cx="260.5" cy="833.3" r="6.94"/><circle cx="261.2" cy="835.4" r="6.94"/><circle cx="261.9" cy="832.1" r="6.94"/>
<circle cx="262.5" cy="834.1" r="6.94"/><circle cx="263.1" cy="835.9" r="6.94"/><circle cx="263.7" cy="832.8" r="6.94"/><circle cx="264.3" cy="834.3" r="6.94"/><circle cx="264.9" cy="835.3" r="6.94"/><circle cx="265.5" cy="833.5" r="6.94"/>
<circle cx="266.1" cy="834.1" r="6.94"/><circle cx="266.6" cy="834.4" r="6.94"/><circle cx="267.2" cy="832.8" r="6.94"/><circle cx="267.8" cy="833.5" r="6.94"/><circle cx="268.4" cy="833.9" r="6.94"/><circle cx="269.0" cy="834.4" r="6.94"/>
<circle cx="269.6" cy="833.6" r="6.94"/><circle cx="270.2" cy="833.4" r="6.94"/><circle cx="270.8" cy="832.7" r="6.94"/><circle cx="271.4" cy="833.2" r="6.94"/><circle cx="271.9" cy="834.4" r="6.94"/><circle cx="272.5" cy="833.6" r="6.94"/>
<circle cx="273.1" cy="832.8" r="6.94"/><circle cx="273.7" cy="832.8" r="6.94"/><circle cx="274.3" cy="835.9" r="6.94"/><circle cx="274.9" cy="834.5" r="6.94"/><circle cx="275.5" cy="834.1" r="6.94"/><circle cx="276.2" cy="831.1" r="6.94"/>
<circle cx="276.9" cy="834.0" r="6.94"/><circle cx="277.5" cy="833.9" r="6.94"/><circle cx="278.2" cy="834.9" r="6.94"/><circle cx="278.9" cy="833.8" r="6.94"/><circle cx="279.6" cy="833.3" r="6.94"/><circle cx="280.3" cy="833.8" r="6.94"/>
<circle cx="281.0" cy="831.6" r="6.94"/><circle cx="281.7" cy="834.3" r="6.94"/><circle cx="282.4" cy="833.6" r="6.94"/><circle cx="283.1" cy="832.7" r="6.94"/><circle cx="283.7" cy="834.5" r="6.94"/><circle cx="284.4" cy="834.9" r="6.94"/>
<circle cx="285.1" cy="832.0" r="6.94"/><circle cx="285.8" cy="832.7" r="6.94"/><circle cx="286.5" cy="833.5" r="6.94"/><circle cx="287.2" cy="833.4" r="6.94"/><circle cx="287.9" cy="832.9" r="6.94"/><circle cx="288.6" cy="832.3" r="6.94"/>
<circle cx="289.3" cy="835.1" r="6.94"/><circle cx="290.0" cy="834.1" r="6.94"/><circle cx="290.6" cy="832.1" r="6.94"/><circle cx="291.3" cy="831.9" r="6.94"/><circle cx="291.9" cy="834.7" r="6.94"/><circle cx="292.5" cy="834.0" r="6.94"/>
<circle cx="293.1" cy="834.7" r="6.94"/><circle cx="293.8" cy="833.8" r="6.94"/><circle cx="294.4" cy="832.3" r="6.94"/><circle cx="295.0" cy="833.3" r="6.94"/><circle cx="295.6" cy="831.1" r="6.94"/><circle cx="296.3" cy="832.4" r="6.94"/>
<circle cx="296.9" cy="833.0" r="6.94"/><circle cx="297.5" cy="833.5" r="6.94"/><circle cx="298.1" cy="832.3" r="6.94"/><circle cx="298.8" cy="832.9" r="6.94"/><circle cx="299.4" cy="833.4" r="6.94"/><circle cx="300.0" cy="833.3" r="6.94"/>
<circle cx="300.6" cy="833.5" r="6.94"/><circle cx="301.3" cy="833.1" r="6.94"/><circle cx="301.9" cy="832.6" r="6.94"/><circle cx="302.5" cy="833.6" r="6.94"/><circle cx="303.0" cy="832.9" r="6.94"/><circle cx="303.5" cy="832.1" r="6.94"/>
<circle cx="304.1" cy="832.3" r="6.94"/><circle cx="304.6" cy="832.8" r="6.94"/><circle cx="305.1" cy="832.7" r="6.94"/><circle cx="305.6" cy="833.0" r="6.94"/><circle cx="306.1" cy="832.8" r="6.94"/><circle cx="306.6" cy="833.0" r="6.94"/>
<circle cx="307.1" cy="832.7" r="6.94"/><circle cx="307.6" cy="831.6" r="6.94"/><circle cx="308.2" cy="833.1" r="6.94"/><circle cx="308.7" cy="833.7" r="6.94"/><circle cx="309.2" cy="833.1" r="6.94"/><circle cx="309.7" cy="832.6" r="6.94"/>
<circle cx="310.2" cy="833.8" r="6.94"/><circle cx="310.7" cy="830.5" r="6.94"/><circle cx="311.2" cy="828.3" r="6.94"/><circle cx="311.7" cy="832.8" r="6.94"/><circle cx="312.3" cy="830.5" r="6.94"/><circle cx="312.8" cy="834.4" r="6.94"/>
<circle cx="313.3" cy="830.2" r="6.94"/><circle cx="313.8" cy="826.6" r="6.94"/><circle cx="314.3" cy="830.2" r="6.94"/><circle cx="314.8" cy="836.3" r="6.94"/><circle cx="315.3" cy="831.7" r="6.94"/><circle cx="315.9" cy="829.5" r="6.94"/>
<circle cx="316.4" cy="830.8" r="6.94"/><circle cx="316.9" cy="833.8" r="6.94"/><circle cx="320.2" cy="833.7" r="6.94"/><circle cx="323.5" cy="832.9" r="6.94"/><circle cx="326.9" cy="835.8" r="6.94"/><circle cx="327.4" cy="834.0" r="6.94"/>
<circle cx="328.0" cy="832.3" r="6.94"/><circle cx="328.6" cy="833.7" r="6.94"/><circle cx="329.2" cy="836.2" r="6.94"/><circle cx="329.7" cy="834.6" r="6.94"/><circle cx="330.3" cy="834.7" r="6.94"/><circle cx="330.9" cy="829.8" r="6.94"/>
<circle cx="331.4" cy="832.0" r="6.94"/><circle cx="332.0" cy="834.0" r="6.94"/><circle cx="332.6" cy="831.6" r="6.94"/><circle cx="333.2" cy="834.7" r="6.94"/><circle cx="333.7" cy="833.6" r="6.94"/><circle cx="334.3" cy="834.3" r="6.94"/>
<circle cx="334.9" cy="831.8" r="6.94"/><circle cx="335.4" cy="838.1" r="6.94"/><circle cx="336.0" cy="835.1" r="6.94"/><circle cx="336.6" cy="831.7" r="6.94"/><circle cx="337.2" cy="832.4" r="6.94"/><circle cx="337.7" cy="838.2" r="6.94"/>
<circle cx="338.3" cy="831.4" r="6.94"/><circle cx="338.9" cy="834.2" r="6.94"/><circle cx="339.4" cy="834.4" r="6.94"/><circle cx="340.0" cy="832.2" r="6.94"/><circle cx="340.6" cy="829.5" r="6.94"/><circle cx="341.2" cy="832.6" r="6.94"/>
<circle cx="341.7" cy="832.9" r="6.94"/><circle cx="342.3" cy="834.7" r="6.94"/><circle cx="342.9" cy="833.9" r="6.94"/><circle cx="343.4" cy="832.1" r="6.94"/><circle cx="344.0" cy="834.0" r="6.94"/><circle cx="344.6" cy="833.3" r="6.94"/>
<circle cx="345.2" cy="832.5" r="6.94"/><circle cx="345.7" cy="832.2" r="6.94"/><circle cx="346.3" cy="831.5" r="6.94"/><circle cx="346.9" cy="833.6" r="6.94"/><circle cx="347.4" cy="829.6" r="6.94"/><circle cx="348.0" cy="830.6" r="6.94"/>
<circle cx="353.0" cy="831.9" r="6.94"/><circle cx="358.0" cy="828.5" r="6.94"/><circle cx="358.8" cy="830.8" r="6.94"/><circle cx="359.5" cy="827.2" r="6.94"/><circle cx="360.2" cy="830.2" r="6.94"/><circle cx="361.0" cy="833.1" r="6.94"/>
<circle cx="361.7" cy="833.1" r="6.94"/><circle cx="362.5" cy="831.6" r="6.94"/><circle cx="363.2" cy="831.2" r="6.94"/><circle cx="363.9" cy="828.5" r="6.94"/><circle cx="364.7" cy="835.9" r="6.94"/><circle cx="365.4" cy="832.9" r="6.94"/>
<circle cx="366.2" cy="834.2" r="6.94"/><circle cx="366.9" cy="829.6" r="6.94"/><circle cx="367.7" cy="831.2" r="6.94"/><circle cx="368.4" cy="827.4" r="6.94"/><circle cx="369.1" cy="833.4" r="6.94"/><circle cx="370.0" cy="833.8" r="6.94"/>
<circle cx="371.0" cy="827.2" r="6.94"/><circle cx="371.9" cy="831.5" r="6.94"/><circle cx="372.8" cy="833.0" r="6.94"/><circle cx="373.7" cy="827.5" r="6.94"/><circle cx="374.6" cy="827.4" r="6.94"/><circle cx="375.5" cy="829.1" r="6.94"/>
<circle cx="376.4" cy="830.1" r="6.94"/><circle cx="377.3" cy="828.3" r="6.94"/><circle cx="378.2" cy="831.6" r="6.94"/><circle cx="379.1" cy="832.1" r="6.94"/><circle cx="380.0" cy="833.0" r="6.94"/><circle cx="381.0" cy="833.1" r="6.94"/>
<circle cx="381.9" cy="835.0" r="6.94"/><circle cx="382.8" cy="834.2" r="6.94"/><circle cx="383.7" cy="828.5" r="6.94"/><circle cx="384.6" cy="830.3" r="6.94"/><circle cx="385.5" cy="829.0" r="6.94"/><circle cx="386.4" cy="829.0" r="6.94"/>
<circle cx="387.3" cy="831.3" r="6.94"/><circle cx="388.2" cy="831.5" r="6.94"/><circle cx="389.1" cy="832.6" r="6.94"/><circle cx="390.0" cy="827.8" r="6.94"/><circle cx="391.0" cy="828.6" r="6.94"/><circle cx="391.9" cy="831.4" r="6.94"/>
<circle cx="392.8" cy="831.0" r="6.94"/><circle cx="393.7" cy="830.7" r="6.94"/><circle cx="394.6" cy="831.3" r="6.94"/><circle cx="395.5" cy="829.7" r="6.94"/><circle cx="396.4" cy="833.0" r="6.94"/><circle cx="397.3" cy="832.2" r="6.94"/>
<circle cx="398.2" cy="831.2" r="6.94"/><circle cx="399.1" cy="829.8" r="6.94"/><circle cx="400.4" cy="831.0" r="6.94"/><circle cx="401.6" cy="825.1" r="6.94"/><circle cx="402.9" cy="829.1" r="6.94"/><circle cx="404.1" cy="831.4" r="6.94"/>
<circle cx="405.4" cy="827.9" r="6.94"/><circle cx="406.6" cy="831.8" r="6.94"/><circle cx="407.9" cy="831.7" r="6.94"/><circle cx="408.8" cy="828.1" r="6.94"/><circle cx="409.8" cy="830.7" r="6.94"/><circle cx="410.7" cy="830.6" r="6.94"/>
<circle cx="411.7" cy="832.3" r="6.94"/><circle cx="412.6" cy="832.7" r="6.94"/><circle cx="413.6" cy="831.2" r="6.94"/><circle cx="414.5" cy="829.3" r="6.94"/><circle cx="415.5" cy="830.9" r="6.94"/><circle cx="416.5" cy="831.1" r="6.94"/>
<circle cx="417.4" cy="832.9" r="6.94"/><circle cx="418.4" cy="831.9" r="6.94"/><circle cx="419.3" cy="829.6" r="6.94"/><circle cx="420.3" cy="828.1" r="6.94"/><circle cx="421.1" cy="830.4" r="6.94"/><circle cx="421.9" cy="829.5" r="6.94"/>
<circle cx="422.8" cy="828.6" r="6.94"/><circle cx="423.6" cy="830.9" r="6.94"/><circle cx="424.4" cy="830.1" r="6.94"/><circle cx="425.3" cy="831.4" r="6.94"/><circle cx="426.1" cy="832.4" r="6.94"/><circle cx="426.9" cy="830.2" r="6.94"/>
<circle cx="427.8" cy="836.5" r="6.94"/><circle cx="428.6" cy="830.4" r="6.94"/><circle cx="429.4" cy="833.7" r="6.94"/><circle cx="430.3" cy="831.4" r="6.94"/><circle cx="431.1" cy="833.7" r="6.94"/><circle cx="431.9" cy="825.7" r="6.94"/>
<circle cx="432.8" cy="829.4" r="6.94"/><circle cx="433.6" cy="831.7" r="6.94"/><circle cx="434.4" cy="832.5" r="6.94"/><circle cx="435.3" cy="836.5" r="6.94"/><circle cx="436.2" cy="831.8" r="6.94"/><circle cx="437.2" cy="834.0" r="6.94"/>
<circle cx="438.1" cy="832.9" r="6.94"/><circle cx="439.0" cy="833.3" r="6.94"/><circle cx="439.9" cy="832.2" r="6.94"/><circle cx="440.8" cy="830.7" r="6.94"/><circle cx="441.7" cy="832.2" r="6.94"/><circle cx="442.6" cy="828.6" r="6.94"/>
<circle cx="443.5" cy="833.8" r="6.94"/><circle cx="444.4" cy="828.7" r="6.94"/><circle cx="445.3" cy="831.6" r="6.94"/><circle cx="446.2" cy="835.9" r="6.94"/><circle cx="447.2" cy="830.5" r="6.94"/><circle cx="448.1" cy="831.1" r="6.94"/>
<circle cx="449.0" cy="833.7" r="6.94"/><circle cx="449.9" cy="831.1" r="6.94"/><circle cx="450.8" cy="829.1" r="6.94"/><circle cx="451.3" cy="831.6" r="6.94"/><circle cx="451.9" cy="832.3" r="6.94"/><circle cx="452.4" cy="832.6" r="6.94"/>
<circle cx="453.0" cy="829.2" r="6.94"/><circle cx="453.5" cy="835.0" r="6.94"/><circle cx="454.0" cy="834.8" r="6.94"/><circle cx="454.6" cy="831.0" r="6.94"/><circle cx="455.1" cy="831.5" r="6.94"/><circle cx="455.7" cy="829.9" r="6.94"/>
<circle cx="456.2" cy="834.2" r="6.94"/><circle cx="456.7" cy="829.3" r="6.94"/><circle cx="457.3" cy="832.4" r="6.94"/><circle cx="457.8" cy="829.8" r="6.94"/><circle cx="458.4" cy="829.3" r="6.94"/><circle cx="458.9" cy="832.5" r="6.94"/>
<circle cx="459.4" cy="833.9" r="6.94"/><circle cx="460.0" cy="830.8" r="6.94"/><circle cx="460.5" cy="829.3" r="6.94"/><circle cx="461.1" cy="832.7" r="6.94"/><circle cx="461.6" cy="830.7" r="6.94"/><circle cx="462.1" cy="831.5" r="6.94"/>
<circle cx="462.7" cy="834.3" r="6.94"/><circle cx="463.2" cy="833.4" r="6.94"/><circle cx="463.8" cy="829.6" r="6.94"/><circle cx="464.3" cy="836.1" r="6.94"/><circle cx="464.8" cy="830.8" r="6.94"/><circle cx="465.4" cy="832.6" r="6.94"/>
<circle cx="465.9" cy="829.3" r="6.94"/><circle cx="466.5" cy="830.7" r="6.94"/><circle cx="467.0" cy="826.7" r="6.94"/><circle cx="467.5" cy="834.9" r="6.94"/><circle cx="468.3" cy="833.9" r="6.94"/><circle cx="469.0" cy="827.9" r="6.94"/>
<circle cx="469.7" cy="827.3" r="6.94"/><circle cx="470.4" cy="827.0" r="6.94"/><circle cx="471.1" cy="833.4" r="6.94"/><circle cx="471.8" cy="829.6" r="6.94"/><circle cx="472.5" cy="830.5" r="6.94"/><circle cx="473.3" cy="830.0" r="6.94"/>
<circle cx="474.0" cy="830.4" r="6.94"/><circle cx="474.7" cy="828.2" r="6.94"/><circle cx="475.4" cy="830.7" r="6.94"/><circle cx="476.1" cy="827.3" r="6.94"/><circle cx="476.8" cy="830.5" r="6.94"/><circle cx="477.5" cy="831.3" r="6.94"/>
<circle cx="478.3" cy="831.7" r="6.94"/><circle cx="479.0" cy="830.1" r="6.94"/><circle cx="479.7" cy="828.5" r="6.94"/><circle cx="480.4" cy="830.9" r="6.94"/><circle cx="481.1" cy="829.4" r="6.94"/><circle cx="481.8" cy="834.2" r="6.94"/>
<circle cx="482.5" cy="832.3" r="6.94"/><circle cx="483.3" cy="830.3" r="6.94"/><circle cx="484.0" cy="829.4" r="6.94"/><circle cx="484.7" cy="828.9" r="6.94"/><circle cx="486.7" cy="828.3" r="6.94"/><circle cx="488.7" cy="829.6" r="6.94"/>
<circle cx="490.7" cy="831.1" r="6.94"/><circle cx="492.7" cy="831.6" r="6.94"/><circle cx="496.7" cy="831.7" r="6.94"/><circle cx="500.7" cy="835.1" r="6.94"/><circle cx="501.9" cy="828.7" r="6.94"/><circle cx="503.0" cy="830.3" r="6.94"/>
<circle cx="504.2" cy="836.7" r="6.94"/><circle cx="505.4" cy="826.0" r="6.94"/><circle cx="506.6" cy="829.0" r="6.94"/><circle cx="507.8" cy="830.6" r="6.94"/><circle cx="508.9" cy="830.6" r="6.94"/><circle cx="510.1" cy="831.1" r="6.94"/>
<circle cx="511.3" cy="829.6" r="6.94"/><circle cx="512.5" cy="831.0" r="6.94"/><circle cx="513.6" cy="830.3" r="6.94"/><circle cx="514.8" cy="831.9" r="6.94"/><circle cx="516.0" cy="825.8" r="6.94"/><circle cx="519.3" cy="828.1" r="6.94"/>
<circle cx="522.7" cy="830.1" r="6.94"/><circle cx="524.2" cy="827.7" r="6.94"/><circle cx="525.7" cy="827.6" r="6.94"/><circle cx="527.3" cy="831.5" r="6.94"/><circle cx="528.8" cy="828.5" r="6.94"/><circle cx="530.3" cy="831.5" r="6.94"/>
<circle cx="531.9" cy="831.7" r="6.94"/><circle cx="535.9" cy="830.6" r="6.94"/><circle cx="120.6" cy="835.1" r="6.94"/><circle cx="120.1" cy="835.1" r="6.94"/><circle cx="120.6" cy="835.0" r="6.94"/><circle cx="120.5" cy="835.3" r="6.94"/>
<circle cx="120.3" cy="835.3" r="6.94"/><circle cx="121.0" cy="835.0" r="6.94"/><circle cx="120.5" cy="835.1" r="6.94"/><circle cx="120.9" cy="835.2" r="6.94"/><circle cx="120.7" cy="834.9" r="6.94"/><circle cx="120.5" cy="835.1" r="6.94"/>
<circle cx="120.1" cy="835.5" r="6.94"/><circle cx="120.7" cy="834.7" r="6.94"/><circle cx="120.7" cy="835.1" r="6.94"/><circle cx="120.6" cy="835.2" r="6.94"/><circle cx="120.1" cy="835.0" r="6.94"/><circle cx="120.9" cy="835.0" r="6.94"/>
<circle cx="120.2" cy="834.8" r="6.94"/><circle cx="120.2" cy="835.2" r="6.94"/><circle cx="120.9" cy="835.2" r="6.94"/><circle cx="120.6" cy="835.7" r="6.94"/><circle cx="120.4" cy="834.9" r="6.94"/><circle cx="120.6" cy="835.2" r="6.94"/>
<circle cx="120.2" cy="834.8" r="6.94"/><circle cx="120.6" cy="835.2" r="6.94"/><circle cx="120.2" cy="835.0" r="6.94"/><circle cx="120.4" cy="835.2" r="6.94"/><circle cx="544.6" cy="829.8" r="6.94"/><circle cx="543.9" cy="830.8" r="6.94"/>
<circle cx="549.2" cy="829.6" r="6.94"/><circle cx="547.5" cy="829.2" r="6.94"/><circle cx="545.2" cy="830.6" r="6.94"/><circle cx="549.5" cy="829.6" r="6.94"/><circle cx="544.8" cy="830.1" r="6.94"/><circle cx="540.5" cy="829.9" r="6.94"/>
<circle cx="543.0" cy="830.2" r="6.94"/><circle cx="541.6" cy="828.1" r="6.94"/><circle cx="545.1" cy="830.1" r="6.94"/><circle cx="543.4" cy="830.7" r="6.94"/><circle cx="544.2" cy="829.4" r="6.94"/><circle cx="546.4" cy="828.5" r="6.94"/>
<circle cx="543.0" cy="829.9" r="6.94"/><circle cx="560.6" cy="830.7" r="6.94"/><circle cx="559.3" cy="830.2" r="6.94"/><circle cx="559.3" cy="832.3" r="6.94"/><circle cx="556.8" cy="832.9" r="6.94"/><circle cx="556.9" cy="830.8" r="6.94"/>
<circle cx="558.9" cy="831.7" r="6.94"/><circle cx="555.4" cy="828.9" r="6.94"/><circle cx="560.0" cy="831.5" r="6.94"/><circle cx="560.1" cy="833.2" r="6.94"/><circle cx="568.8" cy="832.2" r="6.94"/><circle cx="575.1" cy="830.4" r="6.94"/>
<circle cx="582.5" cy="830.1" r="6.94"/><circle cx="129.3" cy="825.4" r="6.94"/><circle cx="138.5" cy="824.0" r="6.94"/><circle cx="130.4" cy="825.8" r="6.94"/><circle cx="124.1" cy="824.7" r="6.94"/><circle cx="132.8" cy="828.9" r="6.94"/>
<circle cx="122.3" cy="829.1" r="6.94"/><circle cx="134.0" cy="817.6" r="6.94"/><circle cx="139.7" cy="831.5" r="6.94"/><circle cx="133.3" cy="826.2" r="6.94"/><circle cx="130.8" cy="817.9" r="6.94"/><circle cx="129.1" cy="829.6" r="6.94"/>
<circle cx="130.6" cy="826.6" r="6.94"/><circle cx="130.2" cy="826.9" r="6.94"/><circle cx="129.4" cy="821.2" r="6.94"/><circle cx="140.0" cy="831.9" r="6.94"/><circle cx="136.9" cy="827.6" r="6.94"/><circle cx="126.6" cy="820.4" r="6.94"/>
<circle cx="135.4" cy="823.0" r="6.94"/><circle cx="137.0" cy="822.8" r="6.94"/><circle cx="139.2" cy="829.7" r="6.94"/><circle cx="138.3" cy="824.0" r="6.94"/><circle cx="139.6" cy="823.0" r="6.94"/><circle cx="121.9" cy="826.4" r="6.94"/>
<circle cx="135.7" cy="821.0" r="6.94"/><circle cx="139.3" cy="828.4" r="6.94"/><circle cx="136.0" cy="819.7" r="6.94"/><circle cx="151.3" cy="822.4" r="6.94"/><circle cx="143.2" cy="826.8" r="6.94"/><circle cx="141.9" cy="825.5" r="6.94"/>
<circle cx="141.6" cy="822.0" r="6.94"/><circle cx="143.7" cy="819.7" r="6.94"/><circle cx="160.4" cy="828.0" r="6.94"/><circle cx="145.7" cy="829.2" r="6.94"/><circle cx="143.6" cy="821.6" r="6.94"/><circle cx="157.8" cy="825.4" r="6.94"/>
<circle cx="141.2" cy="830.8" r="6.94"/><circle cx="143.7" cy="819.5" r="6.94"/><circle cx="156.0" cy="820.6" r="6.94"/><circle cx="145.5" cy="816.6" r="6.94"/><circle cx="141.0" cy="824.5" r="6.94"/><circle cx="144.3" cy="824.8" r="6.94"/>
<circle cx="147.2" cy="822.5" r="6.94"/><circle cx="160.1" cy="823.0" r="6.94"/><circle cx="151.6" cy="828.9" r="6.94"/><circle cx="143.0" cy="817.9" r="6.94"/><circle cx="159.0" cy="828.2" r="6.94"/><circle cx="142.7" cy="817.0" r="6.94"/>
<circle cx="146.7" cy="811.7" r="6.94"/><circle cx="129.2" cy="815.2" r="6.94"/><circle cx="138.7" cy="806.7" r="6.94"/><circle cx="137.7" cy="815.6" r="6.94"/><circle cx="139.2" cy="806.5" r="6.94"/><circle cx="147.7" cy="805.3" r="6.94"/>
<circle cx="138.0" cy="804.1" r="6.94"/><circle cx="132.1" cy="816.3" r="6.94"/><circle cx="199.0" cy="822.5" r="6.94"/><circle cx="184.6" cy="821.4" r="6.94"/><circle cx="157.0" cy="812.6" r="6.94"/><circle cx="150.9" cy="826.6" r="6.94"/>
<circle cx="185.0" cy="827.4" r="6.94"/><circle cx="151.1" cy="822.2" r="6.94"/><circle cx="174.1" cy="823.7" r="6.94"/><circle cx="165.9" cy="828.0" r="6.94"/><circle cx="129.8" cy="825.8" r="6.94"/><circle cx="129.8" cy="823.4" r="6.94"/>
<circle cx="130.5" cy="826.0" r="6.94"/><circle cx="125.2" cy="823.2" r="6.94"/><circle cx="131.8" cy="825.5" r="6.94"/><circle cx="126.0" cy="824.5" r="6.94"/><circle cx="131.4" cy="821.9" r="6.94"/><circle cx="128.5" cy="819.6" r="6.94"/>
<circle cx="128.0" cy="822.3" r="6.94"/>
</g>
<g clip-path="url(#c)" fill="none" stroke-width="4.17" stroke-linecap="square">
<line x1="65.6" y1="889.6" x2="858.4" y2="102.1" stroke="#00f" stroke-opacity="0.33"/>
<path d="M119.01 847.35 L640.38 667.67 A2.40 2.40 0 0 0 638.82 663.13 L117.45 842.81 Z" fill="#f00" fill-opacity="0.33" stroke="none"/>
</g>
<rect x="75.5" y="110.5" width="775.0" height="770.0" fill="none" stroke="#000" stroke-width="1.1"/>
<g stroke="#000" stroke-width="1.1">
<line x1="120.50" y1="880.5" x2="120.50" y2="885.4"/><line x1="70.6" y1="835.10" x2="75.5" y2="835.10"/>
<line x1="242.46" y1="880.5" x2="242.46" y2="885.4"/><line x1="70.6" y1="713.94" x2="75.5" y2="713.94"/>
<line x1="364.42" y1="880.5" x2="364.42" y2="885.4"/><line x1="70.6" y1="592.78" x2="75.5" y2="592.78"/>
<line x1="486.38" y1="880.5" x2="486.38" y2="885.4"/><line x1="70.6" y1="471.62" x2="75.5" y2="471.62"/>
<line x1="608.34" y1="880.5" x2="608.34" y2="885.4"/><line x1="70.6" y1="350.46" x2="75.5" y2="350.46"/>
<line x1="730.30" y1="880.5" x2="730.30" y2="885.4"/><line x1="70.6" y1="229.30" x2="75.5" y2="229.30"/>
</g>
<g font-size="14.3">
<text x="120.50" y="900.8" text-anchor="middle" textLength="7.5" lengthAdjust="spacingAndGlyphs">0</text><text x="65.00" y="840.30" text-anchor="end" textLength="7.5" lengthAdjust="spacingAndGlyphs">0</text>
<text x="242.46" y="900.8" text-anchor="middle" textLength="25.2" lengthAdjust="spacingAndGlyphs">200</text><text x="65.00" y="719.14" text-anchor="end" textLength="25.2" lengthAdjust="spacingAndGlyphs">200</text>
<text x="364.42" y="900.8" text-anchor="middle" textLength="25.2" lengthAdjust="spacingAndGlyphs">400</text><text x="65.00" y="597.98" text-anchor="end" textLength="25.2" lengthAdjust="spacingAndGlyphs">400</text>
<text x="486.38" y="900.8" text-anchor="middle" textLength="25.2" lengthAdjust="spacingAndGlyphs">600</text><text x="65.00" y="476.82" text-anchor="end" textLength="25.2" lengthAdjust="spacingAndGlyphs">600</text>
<text x="608.34" y="900.8" text-anchor="middle" textLength="25.2" lengthAdjust="spacingAndGlyphs">800</text><text x="65.00" y="355.66" text-anchor="end" textLength="25.2" lengthAdjust="spacingAndGlyphs">800</text>
<text x="730.30" y="900.8" text-anchor="middle" textLength="34.1" lengthAdjust="spacingAndGlyphs">1000</text><text x="65.00" y="234.50" text-anchor="end" textLength="34.1" lengthAdjust="spacingAndGlyphs">1000</text>
</g>
<text x="462.7" y="920.9" font-size="17.2" text-anchor="middle" textLength="82.1" lengthAdjust="spacingAndGlyphs">Simulated</text>
<text transform="translate(22.1,496.3) rotate(-90)" font-size="17.2" text-anchor="middle" textLength="76.9" lengthAdjust="spacingAndGlyphs">Observed</text>
<text x="450.4" y="25.2" font-size="20" text-anchor="middle" textLength="569" lengthAdjust="spacingAndGlyphs">X-Y plot at is.landsvirkjun.gf for downward_shortwave_flux</text>
<text x="450.4" y="47.6" font-size="20" text-anchor="middle" textLength="293.7" lengthAdjust="spacingAndGlyphs">from rav2-09-10 during spring</text>
</svg>
</body></html>
